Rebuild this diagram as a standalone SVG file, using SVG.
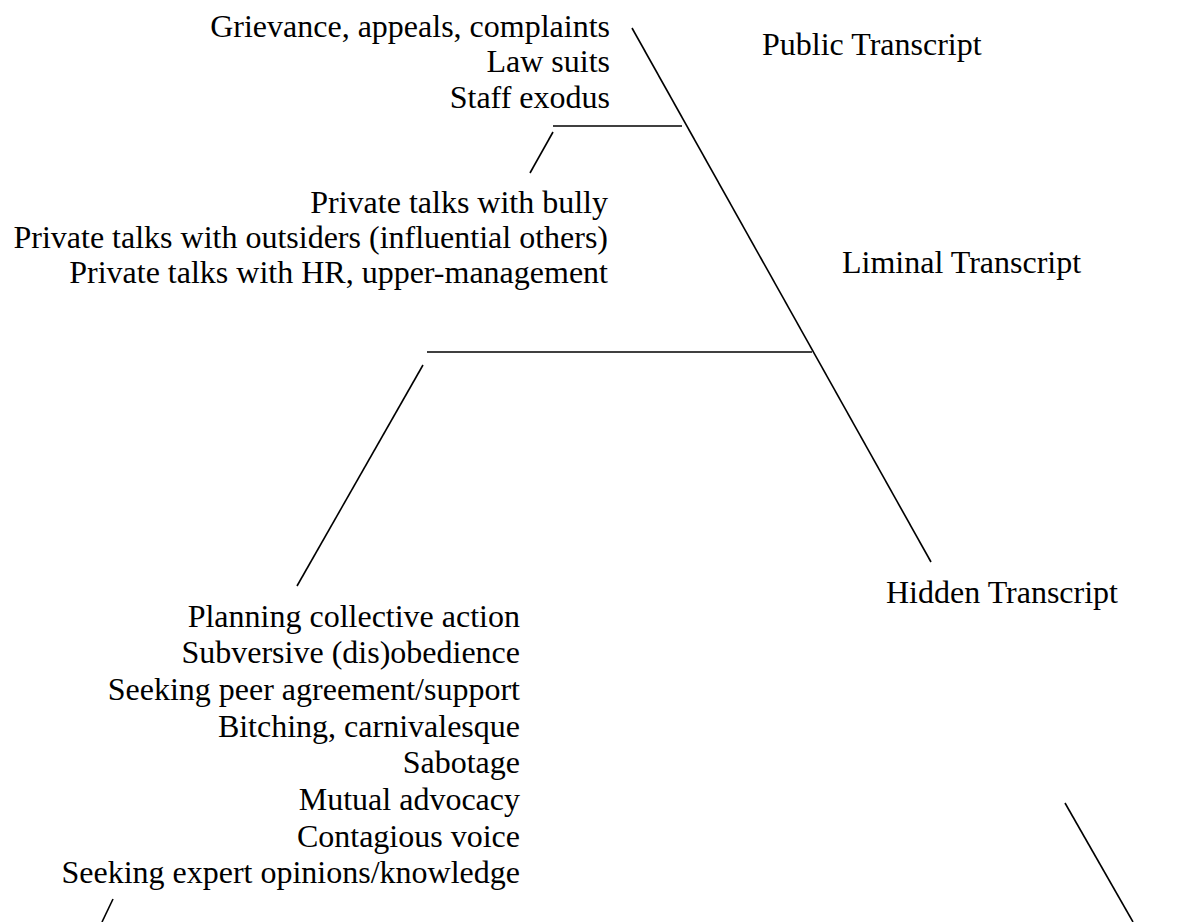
<svg xmlns="http://www.w3.org/2000/svg" width="1185" height="922" viewBox="0 0 1185 922">
<style>
text { font-family: "Liberation Serif", "Times New Roman", serif; font-size: 32px; fill: #000; }
.r { text-anchor: end; }
.ln { stroke: #000; stroke-width: 1.6; fill: none; }
</style>
<rect width="1185" height="922" fill="#fff"/>
<g id="connectors">
<line class="ln" x1="632" y1="28" x2="931" y2="562"/>
<line class="ln" x1="1065" y1="803" x2="1133" y2="922"/>
<line class="ln" x1="553" y1="126" x2="682" y2="126"/>
<line class="ln" x1="553" y1="132" x2="530" y2="173"/>
<line class="ln" x1="427" y1="352" x2="812" y2="352"/>
<line class="ln" x1="423" y1="365" x2="297" y2="586"/>
<line class="ln" x1="113" y1="899" x2="102" y2="922"/>
</g>
<g id="public-items">
<text class="r" x="610" y="37">Grievance, appeals, complaints</text>
<text class="r" x="610" y="72">Law suits</text>
<text class="r" x="610" y="108">Staff exodus</text>
</g>
<g id="liminal-items">
<text class="r" x="608" y="213">Private talks with bully</text>
<text class="r" x="608" y="248">Private talks with outsiders (influential others)</text>
<text class="r" x="608" y="283">Private talks with HR, upper-management</text>
</g>
<g id="hidden-items">
<text class="r" x="520" y="627">Planning collective action</text>
<text class="r" x="520" y="663">Subversive (dis)obedience</text>
<text class="r" x="520" y="700">Seeking peer agreement/support</text>
<text class="r" x="520" y="737">Bitching, carnivalesque</text>
<text class="r" x="520" y="773">Sabotage</text>
<text class="r" x="520" y="810">Mutual advocacy</text>
<text class="r" x="520" y="847">Contagious voice</text>
<text class="r" x="520" y="883">Seeking expert opinions/knowledge</text>
</g>
<g id="public-label"><text x="762" y="55">Public Transcript</text></g>
<g id="liminal-label"><text x="842" y="273">Liminal Transcript</text></g>
<g id="hidden-label"><text x="886" y="603">Hidden Transcript</text></g>
</svg>
